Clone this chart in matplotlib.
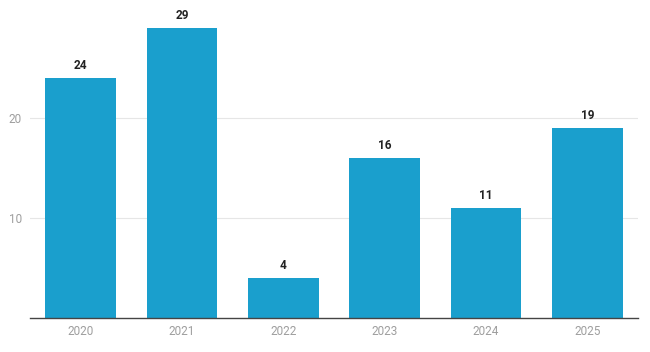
import matplotlib.pyplot as plt

plt.rcParams['font.family'] = ['Roboto', 'DejaVu Sans']

years = ['2020', '2021', '2022', '2023', '2024', '2025']
counts = [24, 29, 4, 16, 11, 19]

fig = plt.figure(figsize=(6.5, 3.52), dpi=100)
ax = fig.add_axes([30 / 650, 34 / 352, 608 / 650, 300 / 352])

x = range(len(years))
bars = ax.bar(x, counts, width=0.7, color='#1a9fcd', zorder=2)

for xi, v in zip(x, counts):
    ax.annotate(str(v), (xi, v), xytext=(0, 4), textcoords='offset points',
                ha='center', va='bottom', fontsize=8.5, fontweight='bold', color='#222222')

ax.set_xlim(-0.5, len(years) - 0.5)
ax.set_ylim(0, 30)
ax.set_yticks([10, 20])
ax.set_xticks(list(x))
ax.set_xticklabels(years)
ax.grid(axis='y', color='#e6e6e6', linewidth=0.8, zorder=0)

for s in ['top', 'right', 'left']:
    ax.spines[s].set_visible(False)
ax.spines['bottom'].set_color('#444444')
ax.spines['bottom'].set_linewidth(1)
ax.tick_params(axis='both', length=0, labelsize=8.5, labelcolor='#9e9e9e')
ax.tick_params(axis='x', pad=5)
ax.tick_params(axis='y', pad=6)

fig.savefig('out.png', dpi=100)
